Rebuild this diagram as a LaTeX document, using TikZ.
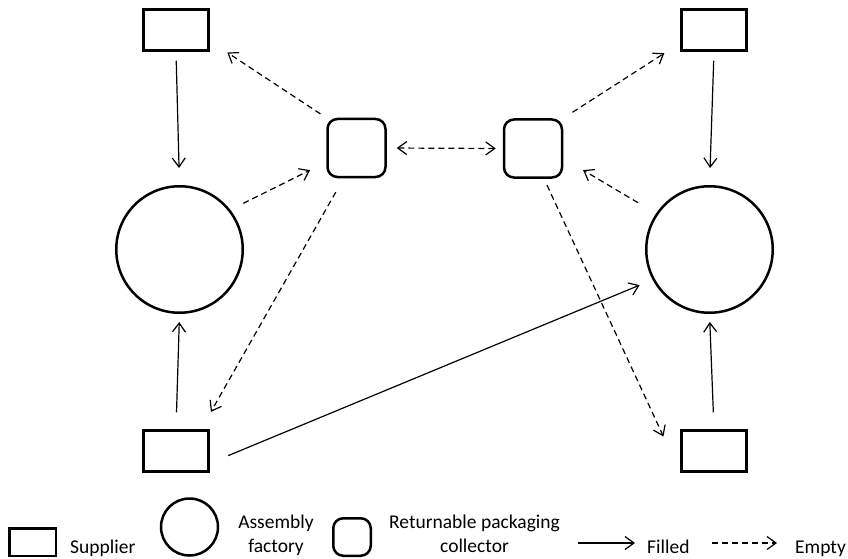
\documentclass[tikz,border=0pt]{standalone}
\usepackage{fontspec}
\setmainfont{Carlito}
\usetikzlibrary{arrows.meta}
\begin{document}
\begin{tikzpicture}[x=1pt,y=-1pt,
 sup/.style={draw,line width=2.5pt,minimum width=65pt,minimum height=41pt,inner sep=0pt},
 fac/.style={draw,circle,line width=2.5pt,minimum size=126.5pt,inner sep=0pt},
 col/.style={draw,rounded corners=10pt,line width=2.5pt,minimum width=58pt,minimum height=58pt,inner sep=0pt},
 filled/.style={line width=1.2pt,-{Straight Barb[length=9pt,width=13pt]}},
 empty/.style={filled,dash pattern=on 6pt off 4pt},
 lbl/.style={font=\fontsize{19.5}{24}\selectfont,inner sep=0pt}]
\useasboundingbox (0,0) rectangle (848,559);
% main nodes
\node[sup] (sTL) at (176,30) {};
\node[sup] (sTR) at (714,30) {};
\node[sup] (sBL) at (176,451) {};
\node[sup] (sBR) at (714,451) {};
\node[fac] (fL) at (179.5,249.5) {};
\node[fac] (fR) at (709.5,249.5) {};
\node[col] (cL) at (356.5,148) {};
\node[col] (cR) at (533,148.5) {};
% filled flows
\draw[filled,shorten <=9pt,shorten >=17pt] (sTL.south) -- (fL.north);
\draw[filled,shorten <=17pt,shorten >=8pt] (sBL.north) -- (fL.south);
\draw[filled,shorten <=9pt,shorten >=17pt] (sTR.south) -- (fR.north);
\draw[filled,shorten <=17pt,shorten >=8pt] (sBR.north) -- (fR.south);
\draw[filled,shorten <=20pt,shorten >=14pt] (sBL.340) -- (fR.208);
% empty flows
\draw[empty,shorten <=14.5pt,shorten >=18pt] (fL.38) -- (cL.205);
\draw[empty,shorten <=7pt,shorten >=21pt] (cL.north west) -- (sTL.342);
\draw[empty,{Straight Barb[length=9pt,width=13pt]}-{Straight Barb[length=9pt,width=13pt]},shorten <=10pt,shorten >=7pt] (cL.east) -- (cR.west);
\draw[empty,shorten <=11pt,shorten >=19pt] (cR.north east) -- (sTR.201);
\draw[empty,shorten <=21pt,shorten >=23pt] (fR.146) -- (cR.342);
\draw[empty,shorten <=16pt,shorten >=20pt] (cL.247) -- (sBL.41);
\draw[empty,shorten <=7pt,shorten >=40pt] (cR.290) -- (sBR.south west);
% legend
\node[sup,minimum width=46.5pt,minimum height=27.5pt] (lsup) at (32.5,542) {};
\node[lbl,anchor=base west] (tsup) at (70,553) {Supplier};
\node[fac,minimum size=57pt] (lfac) at (189.5,527) {};
\node[lbl,align=center,anchor=north] (tfac) at (276,515) {Assembly\\factory};
\node[col,minimum width=37.5pt,minimum height=37.5pt] (lcol) at (352,537) {};
\node[lbl,align=center,anchor=north] (tcol) at (474.5,515) {Returnable packaging\\collector};
\coordinate (fa1) at (578,543);
\coordinate (fa2) at (635,543);
\draw[filled] (fa1) -- (fa2);
\node[lbl,anchor=base west] (tfil) at (647,553) {Filled};
\coordinate (ea1) at (712,543);
\coordinate (ea2) at (777,543);
\draw[empty] (ea1) -- (ea2);
\node[lbl,anchor=base west] (temp) at (795,553) {Empty};
\end{tikzpicture}
\end{document}
